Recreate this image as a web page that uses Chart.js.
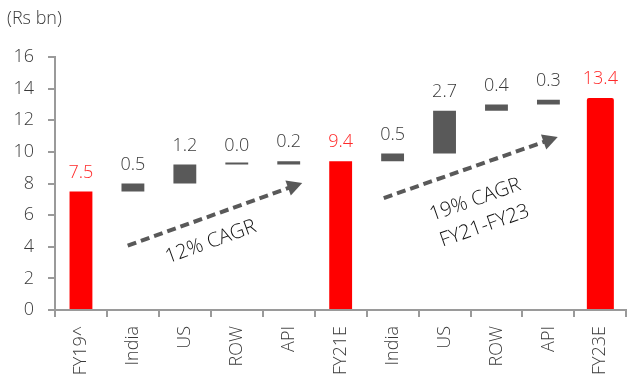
<!DOCTYPE html>
<html>
<head>
<meta charset="utf-8">
<script src="https://cdn.jsdelivr.net/npm/chart.js@4.4.1/dist/chart.umd.min.js"></script>
<style>
  html, body { margin: 0; padding: 0; background: #fff; }
  #wrap { width: 631px; height: 383px; position: relative; }
</style>
</head>
<body>
<div id="wrap"><canvas id="c" width="631" height="383"></canvas></div>
<script>
// Revenue bridge FY19 -> FY21E -> FY23E (Rs bn)
const categories = ['FY19^', 'India', 'US', 'ROW', 'API', 'FY21E', 'India', 'US', 'ROW', 'API', 'FY23E'];
const values     = [7.5, 0.5, 1.2, 0.0, 0.2, 9.4, 0.5, 2.7, 0.4, 0.3, 13.4];
const isTotal    = [true, false, false, false, false, true, false, false, false, false, true];
const yTicks     = [0, 2, 4, 6, 8, 10, 12, 14, 16];
const unitLabel  = '(Rs bn)';
const growthNotes = [
  { lines: ['12% CAGR'] },
  { lines: ['19% CAGR', 'FY21-FY23'] }
];

const RED = '#ff0000';
const GREY = '#595959';
const TEXT = '#3a3a3a';
const AXIS = '#9a9a9a';
const FONT = '"Open Sans", Lato, sans-serif';

// Build floating bars: totals start at zero, increments stack on the running total
const barRanges = [];
let running = 0;
values.forEach((v, i) => {
  if (isTotal[i]) { barRanges.push([0, v]); running = v; }
  else { barRanges.push([running, +(running + v).toFixed(2)]); running = +(running + v).toFixed(2); }
});
const lastIdx = categories.length - 1;
const totalsData = barRanges.map((r, i) => (isTotal[i] && i !== lastIdx) ? r[1] : null);
const finalData  = barRanges.map((r, i) => i === lastIdx ? r[1] : null);
const stepData   = barRanges.map((r, i) => isTotal[i] ? null : r);

// Value labels above each bar
const valueLabels = {
  id: 'valueLabels',
  afterDatasetsDraw(chart) {
    const { ctx, scales: { x, y } } = chart;
    ctx.save();
    ctx.font = '300 18px ' + FONT;
    ctx.textAlign = 'center';
    ctx.textBaseline = 'bottom';
    values.forEach((v, i) => {
      const top = Math.max(barRanges[i][0], barRanges[i][1]);
      ctx.fillStyle = isTotal[i] ? '#ff2a2a' : TEXT;
      ctx.fillText(v.toFixed(1), x.getPixelForValue(i), y.getPixelForValue(top) - 10);
    });
    ctx.restore();
  }
};

// Unit caption and dashed growth arrows with their notes
const notes = {
  id: 'notes',
  afterDraw(chart) {
    const { ctx, scales: { x, y } } = chart;
    const px = (ix, v) => [x.left + (ix + 0.5) * (x.width / categories.length), y.getPixelForValue(v)];
    ctx.save();
    ctx.font = '300 18px ' + FONT;
    ctx.fillStyle = TEXT;
    ctx.textAlign = 'left';
    ctx.textBaseline = 'middle';
    ctx.fillText(unitLabel, 7, 19);

    const arrows = [
      { from: [0.9, 4.07], to: [4.26, 8.03], text: [[2.5, 4.3]] },
      { from: [5.83, 7.08], to: [9.18, 10.94], text: [[7.59, 6.96], [7.77, 5.31]] }
    ];
    arrows.forEach((a, k) => {
      const [x1, y1] = px(a.from[0], a.from[1]);
      const [x2, y2] = px(a.to[0], a.to[1]);
      const ang = Math.atan2(y2 - y1, x2 - x1);
      const head = 15, halfW = 8;
      const bx = x2 - head * Math.cos(ang), by = y2 - head * Math.sin(ang);
      ctx.strokeStyle = GREY;
      ctx.fillStyle = GREY;
      ctx.lineWidth = 4;
      ctx.setLineDash([9, 5]);
      ctx.beginPath();
      ctx.moveTo(x1, y1);
      ctx.lineTo(bx + 2 * Math.cos(ang), by + 2 * Math.sin(ang));
      ctx.stroke();
      ctx.setLineDash([]);
      ctx.beginPath();
      ctx.moveTo(x2, y2);
      ctx.lineTo(bx - halfW * Math.sin(ang), by + halfW * Math.cos(ang));
      ctx.lineTo(bx + halfW * Math.sin(ang), by - halfW * Math.cos(ang));
      ctx.closePath();
      ctx.fill();

      ctx.fillStyle = '#111';
      ctx.font = '300 20px ' + FONT;
      ctx.textAlign = 'center';
      ctx.textBaseline = 'middle';
      growthNotes[k].lines.forEach((line, j) => {
        const [tx, ty] = px(a.text[j][0], a.text[j][1]);
        ctx.save();
        ctx.translate(tx, ty);
        ctx.rotate(ang);
        ctx.fillText(line, 0, 0);
        ctx.restore();
      });
    });
    ctx.restore();
  }
};

new Chart(document.getElementById('c'), {
  type: 'bar',
  data: {
    labels: categories,
    datasets: [
      { data: totalsData, backgroundColor: RED, barPercentage: 0.44, categoryPercentage: 1, grouped: false },
      { data: finalData, backgroundColor: RED, barPercentage: 0.52, categoryPercentage: 1, grouped: false,
        borderRadius: { topLeft: 2, topRight: 2 } },
      { data: stepData, backgroundColor: GREY, barPercentage: 0.44, categoryPercentage: 1, grouped: false,
        minBarLength: 2 }
    ]
  },
  options: {
    responsive: false,
    animation: false,
    layout: { padding: { top: 57, right: 1, left: 0, bottom: 0 } },
    plugins: { legend: { display: false }, tooltip: { enabled: false }, title: { display: false } },
    scales: {
      x: {
        grid: { drawOnChartArea: false, drawTicks: true, tickLength: 7, color: AXIS, lineWidth: 2, offset: true },
        border: { display: true, color: AXIS, width: 2 },
        ticks: { autoSkip: false, minRotation: 90, maxRotation: 90, padding: 9, color: TEXT,
                 font: { family: FONT, size: 18, weight: 300 } },
        afterFit(scale) { scale.height = 73; }
      },
      y: {
        min: 0, max: 16,
        afterBuildTicks(scale) { scale.ticks = yTicks.map(v => ({ value: v })); },
        grid: { drawOnChartArea: false, drawTicks: true, tickLength: 7, color: AXIS, lineWidth: 2 },
        border: { display: true, color: AXIS, width: 2 },
        ticks: { padding: 14, color: TEXT, font: { family: FONT, size: 18, weight: 300 } },
        afterFit(scale) { scale.width = 55; }
      }
    }
  },
  plugins: [valueLabels, notes]
});
</script>
</body>
</html>
